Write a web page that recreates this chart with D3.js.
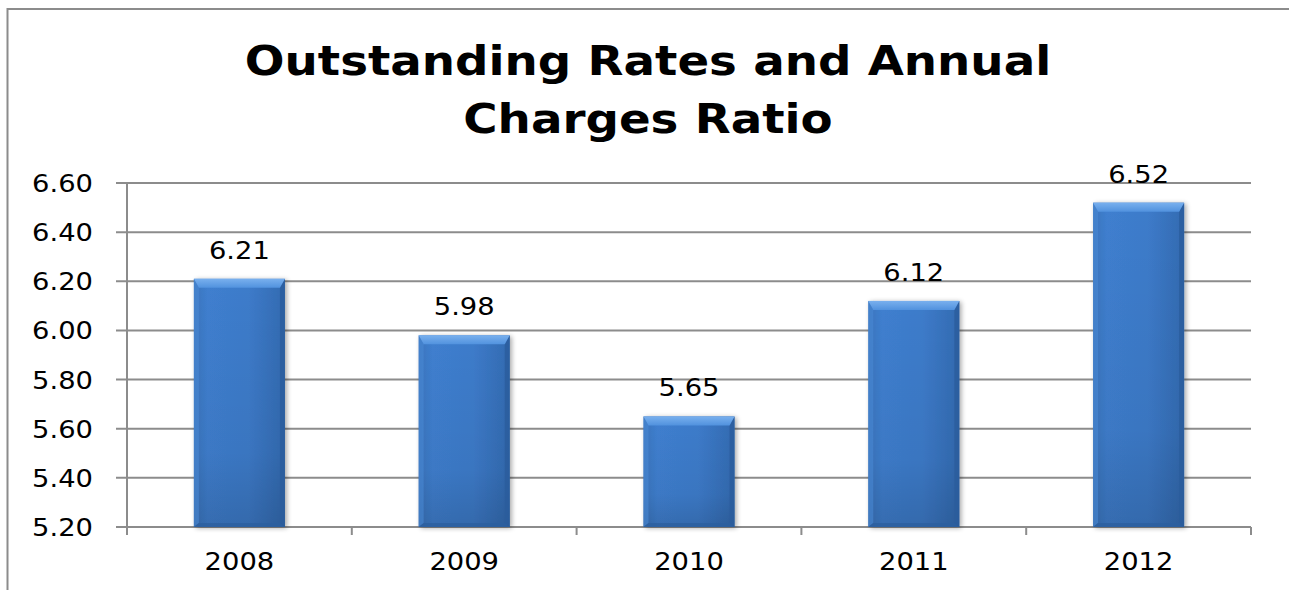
<!DOCTYPE html>
<html>
<head>
<meta charset="utf-8">
<script src="https://cdn.jsdelivr.net/npm/d3@7"></script>
<style>
  html, body { margin: 0; padding: 0; background: #fff; overflow: hidden; }
  svg { display: block; }
  text { font-family: "DejaVu Sans", Verdana, sans-serif; }
</style>
</head>
<body>
<svg id="chart" width="1289" height="590"></svg>
<script>
// ---- data ----
const years = ["2008", "2009", "2010", "2011", "2012"];
const ratios = [6.21, 5.98, 5.65, 6.12, 6.52];
const yTicks = [5.20, 5.40, 5.60, 5.80, 6.00, 6.20, 6.40, 6.60];
const titleLines = ["Outstanding Rates and Annual", "Charges Ratio"];

const svg = d3.select("#chart");
const SX = 1.14; // horizontal stretch of the original rendering

const plot = { left: 127, right: 1251, top: 183, bottom: 527 };

// frame (only left and top edges are visible in the crop)
svg.append("path")
  .attr("d", "M7.5,590V9H1289")
  .attr("fill", "none").attr("stroke", "#8c8c8c").attr("stroke-width", 2);

// title
const titleY = [75, 133];
titleLines.forEach((t, i) => {
  svg.append("text")
    .attr("transform", `translate(648,${titleY[i]}) scale(${SX},1)`)
    .attr("text-anchor", "middle")
    .attr("font-size", 41)
    .attr("font-weight", "bold")
    .attr("fill", "#000")
    .text(t);
});

// scales
const x = d3.scaleBand().domain(years).range([plot.left, plot.right])
  .paddingInner(0.595).paddingOuter(0.2975);
const y = d3.scaleLinear().domain([5.2, 6.6]).range([plot.bottom, plot.top]);

const gridColor = "#8c8c8c";

// gridlines + y ticks
const gy = svg.append("g");
gy.selectAll("line.grid").data(yTicks).join("line")
  .attr("class", "grid")
  .attr("x1", plot.left - 11).attr("x2", plot.right)
  .attr("y1", d => y(d)).attr("y2", d => y(d))
  .attr("stroke", gridColor).attr("stroke-width", 2);

// y axis line
svg.append("line")
  .attr("x1", plot.left).attr("x2", plot.left)
  .attr("y1", plot.top).attr("y2", plot.bottom + 8)
  .attr("stroke", gridColor).attr("stroke-width", 2);

// x ticks at category boundaries
const step = x.step();
const boundaries = years.map(d => x(d) - (step - x.bandwidth()) / 2).concat([plot.right]);
svg.append("g").selectAll("line").data(boundaries.slice(1)).join("line")
  .attr("x1", d => d).attr("x2", d => d)
  .attr("y1", plot.bottom).attr("y2", plot.bottom + 8)
  .attr("stroke", gridColor).attr("stroke-width", 2);

// y labels
gy.selectAll("text").data(yTicks).join("text")
  .attr("transform", d => `translate(93,${y(d) + 9}) scale(${SX},1)`)
  .attr("text-anchor", "end")
  .attr("font-size", 24)
  .attr("fill", "#000")
  .text(d => d3.format(".2f")(d));

// gradients
const defs = svg.append("defs");
const gMain = defs.append("linearGradient").attr("id", "gMain")
  .attr("x1", 0).attr("x2", 1).attr("y1", 0).attr("y2", 0);
gMain.append("stop").attr("offset", 0).attr("stop-color", "#3a74bd");
gMain.append("stop").attr("offset", 0.15).attr("stop-color", "#3f7fcf");
gMain.append("stop").attr("offset", 0.6).attr("stop-color", "#3d7bca");
gMain.append("stop").attr("offset", 1).attr("stop-color", "#336bb2");

const gVert = defs.append("linearGradient").attr("id", "gVert")
  .attr("x1", 0).attr("x2", 0).attr("y1", 0).attr("y2", 1);
gVert.append("stop").attr("offset", 0).attr("stop-color", "#000").attr("stop-opacity", 0);
gVert.append("stop").attr("offset", 0.7).attr("stop-color", "#000").attr("stop-opacity", 0.05);
gVert.append("stop").attr("offset", 1).attr("stop-color", "#000").attr("stop-opacity", 0.15);

const gTop = defs.append("linearGradient").attr("id", "gTop")
  .attr("x1", 0).attr("x2", 0).attr("y1", 0).attr("y2", 1);
gTop.append("stop").attr("offset", 0).attr("stop-color", "#79b0ee");
gTop.append("stop").attr("offset", 1).attr("stop-color", "#5192de");

const shadow = defs.append("filter").attr("id", "shadow")
  .attr("x", "-20%").attr("y", "-10%").attr("width", "140%").attr("height", "120%");
shadow.append("feGaussianBlur").attr("in", "SourceAlpha").attr("stdDeviation", 2.5);
shadow.append("feOffset").attr("dx", 2).attr("dy", 1).attr("result", "b");
shadow.append("feComponentTransfer").append("feFuncA").attr("type", "linear").attr("slope", 0.35);
const merge = shadow.append("feMerge");
merge.append("feMergeNode");
merge.append("feMergeNode").attr("in", "SourceGraphic");

// bars
const barData = years.map((d, i) => ({ year: d, v: ratios[i] }));
const bars = svg.append("g").selectAll("g").data(barData).join("g");

const bev = 9, side = 5;
bars.each(function (d) {
  const g = d3.select(this);
  const x0 = x(d.year), w = x.bandwidth();
  const y0 = y(d.v), y1 = y(5.2), h = y1 - y0;
  g.append("rect").attr("x", x0).attr("y", y0).attr("width", w).attr("height", h)
    .attr("fill", "url(#gMain)").attr("filter", "url(#shadow)");
  g.append("rect").attr("x", x0).attr("y", y0).attr("width", w).attr("height", h)
    .attr("fill", "url(#gVert)");
  g.append("path")
    .attr("d", `M${x0},${y0}L${x0 + side},${y0 + bev}L${x0 + side},${y1 - 4}L${x0},${y1}Z`)
    .attr("fill", "#4a88d4").attr("opacity", 0.6);
  g.append("path")
    .attr("d", `M${x0 + w},${y0}L${x0 + w - side},${y0 + bev}L${x0 + w - side},${y1 - 4}L${x0 + w},${y1}Z`)
    .attr("fill", "#2a5d9c").attr("opacity", 0.8);
  g.append("path")
    .attr("d", `M${x0},${y1}L${x0 + side},${y1 - 4}L${x0 + w - side},${y1 - 4}L${x0 + w},${y1}Z`)
    .attr("fill", "#2c5f9f").attr("opacity", 0.8);
  g.append("path")
    .attr("d", `M${x0},${y0}L${x0 + w},${y0}L${x0 + w - side},${y0 + bev}L${x0 + side},${y0 + bev}Z`)
    .attr("fill", "url(#gTop)");
});

// value labels
svg.append("g").selectAll("text").data(barData).join("text")
  .attr("transform", d => `translate(${x(d.year) + x.bandwidth() / 2},${y(d.v) - 20}) scale(${SX},1)`)
  .attr("text-anchor", "middle")
  .attr("font-size", 24)
  .attr("fill", "#000")
  .text(d => d3.format(".2f")(d.v));

// x labels
svg.append("g").selectAll("text").data(years).join("text")
  .attr("transform", d => `translate(${x(d) + x.bandwidth() / 2},570) scale(${SX},1)`)
  .attr("text-anchor", "middle")
  .attr("font-size", 24)
  .attr("fill", "#000")
  .text(d => d);
</script>
</body>
</html>
